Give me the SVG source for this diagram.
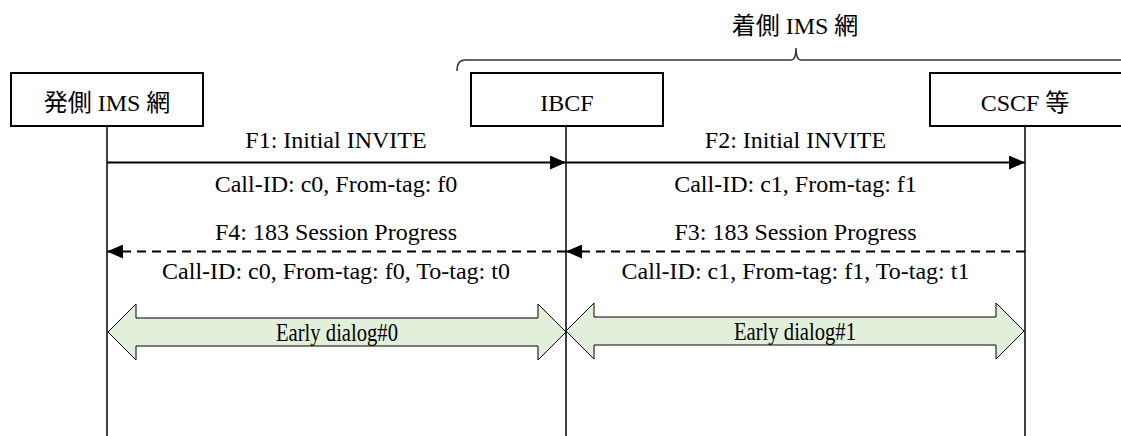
<svg xmlns="http://www.w3.org/2000/svg" width="1121" height="436" viewBox="0 0 1121 436">
<style>
text{font-family:"Liberation Serif","Noto Sans CJK JP",serif;font-size:24px;fill:#000;text-anchor:middle}
.box{fill:#fff;stroke:#000;stroke-width:2}
.life{stroke:#000;stroke-width:1.5;fill:none}
.msg{stroke:#000;stroke-width:2;fill:none}
.dash{stroke-dasharray:9 6}
.dlg{fill:#E2EFDA;stroke:#000;stroke-width:1}
.brace{fill:none;stroke:#333;stroke-width:1.5}
.dl{font-size:26px}
</style>
<defs>
<marker id="ah" viewBox="0 0 16 14" refX="16" refY="7" markerWidth="16" markerHeight="14" markerUnits="userSpaceOnUse" orient="auto">
<path d="M0,0 L16,7 L0,14 Z" fill="#000"/>
</marker>
</defs>
<rect width="1121" height="436" fill="#fff"/>
<g id="brace">
<path class="brace" d="M457,71 Q457,60 465,60 L791,60 Q796,60 796,48 Q796,60 801,60 L1121,60"/>
<text x="795" y="34">着側 IMS 網</text>
</g>
<g id="lifelines">
<line class="life" x1="107" y1="126" x2="107" y2="436"/>
<line class="life" x1="566" y1="126" x2="566" y2="436"/>
<line class="life" x1="1025" y1="126" x2="1025" y2="436"/>
</g>
<g id="node-orig">
<rect class="box" x="11" y="73" width="192" height="53"/>
<text x="107" y="111">発側 IMS 網</text>
</g>
<g id="node-ibcf">
<rect class="box" x="471" y="73" width="192" height="53"/>
<text x="567" y="111">IBCF</text>
</g>
<g id="node-cscf">
<rect class="box" x="930" y="73" width="192" height="53"/>
<text x="1025" y="111">CSCF 等</text>
</g>
<g id="connectors">
<line class="msg" x1="107" y1="162.5" x2="566" y2="162.5" marker-end="url(#ah)"/>
<line class="msg" x1="566" y1="162.5" x2="1025" y2="162.5" marker-end="url(#ah)"/>
<line class="msg dash" x1="1025" y1="251.5" x2="566" y2="251.5" marker-end="url(#ah)"/>
<line class="msg dash" x1="566" y1="251.5" x2="107" y2="251.5" marker-end="url(#ah)"/>
<path class="dlg" d="M108,332 L136,304 L136,318 L538,318 L538,304 L566,332 L538,360 L538,346 L136,346 L136,360 Z"/>
<path class="dlg" d="M566,331 L594,303 L594,317 L996,317 L996,303 L1024,331 L996,359 L996,345 L594,345 L594,359 Z"/>
</g>
<g id="labels">
<text x="336" y="148">F1: Initial INVITE</text>
<text x="336" y="192">Call-ID: c0, From-tag: f0</text>
<text x="336" y="240">F4: 183 Session Progress</text>
<text x="336" y="279">Call-ID: c0, From-tag: f0, To-tag: t0</text>
<text x="795.5" y="148">F2: Initial INVITE</text>
<text x="795.5" y="192">Call-ID: c1, From-tag: f1</text>
<text x="795.5" y="240">F3: 183 Session Progress</text>
<text x="795.5" y="279">Call-ID: c1, From-tag: f1, To-tag: t1</text>
<text class="dl" x="337" y="341" textLength="122" lengthAdjust="spacingAndGlyphs">Early dialog#0</text>
<text class="dl" x="795" y="340" textLength="122" lengthAdjust="spacingAndGlyphs">Early dialog#1</text>
</g>
</svg>
